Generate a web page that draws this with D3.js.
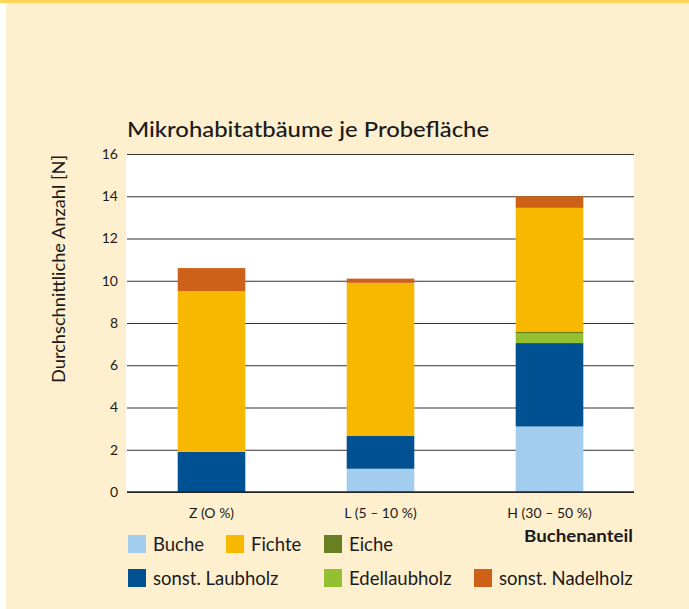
<!DOCTYPE html>
<html><head><meta charset="utf-8">
<script src="https://cdn.jsdelivr.net/npm/d3@7"></script>
<style>body{margin:0;padding:0;background:#fff;}svg{display:block;}text{font-family:Lato,"Open Sans",sans-serif;fill:#1a1a1a;}</style>
</head><body>
<svg id="c" width="689" height="609"></svg>
<script>
const categories = ["Z (O %)", "L (5 – 10 %)", "H (30 – 50 %)"];
const seriesNames = ["Buche", "sonst. Laubholz", "Edellaubholz", "Eiche", "Fichte", "sonst. Nadelholz"];
const buche = [0, 1.1, 3.1];
const laubholz = [1.9, 1.55, 3.95];
const edellaubholz = [0, 0, 0.45];
const eiche = [0, 0, 0.1];
const fichte = [7.6, 7.25, 5.85];
const nadelholz = [1.1, 0.2, 0.55];
const yTicks = [0, 2, 4, 6, 8, 10, 12, 14, 16];
const colors = ["#A3CDEF", "#005192", "#93C030", "#687F22", "#F9B800", "#CD6118"];
const legendRows = [["Buche", "Fichte", "Eiche"], ["sonst. Laubholz", "Edellaubholz", "sonst. Nadelholz"]];

const seriesVals = [buche, laubholz, edellaubholz, eiche, fichte, nadelholz];
const table = categories.map((c, i) => {
  const o = {cat: c};
  seriesNames.forEach((s, j) => o[s] = seriesVals[j][i]);
  return o;
});
const stack = d3.stack().keys(seriesNames)(table);
const color = d3.scaleOrdinal().domain(seriesNames).range(colors);

const svg = d3.select("#c");
svg.append("rect").attr("width", 689).attr("height", 609).attr("fill", "#FEF0CE");
svg.append("rect").attr("width", 6).attr("height", 609).attr("fill", "#ffffff");
svg.append("rect").attr("width", 689).attr("height", 3).attr("fill", "#FFD659");

const L = 127, R = 634, T = 154, B = 492;
const x = d3.scaleBand().domain(categories).range([L, R]).paddingInner(0.6).paddingOuter(0.3);
const y = d3.scaleLinear().domain([0, 16]).range([B, T]);

svg.append("rect").attr("x", L - 1).attr("y", T).attr("width", R - L + 1).attr("height", B - T).attr("fill", "#fff");

const yAxis = d3.axisLeft(y).tickValues(yTicks).tickSize(-(R - L)).tickPadding(8);
const gy = svg.append("g").attr("transform", `translate(${L},0)`).call(yAxis);
gy.select(".domain").remove();
gy.selectAll(".tick line").attr("stroke", "#333").attr("stroke-width", 1.2);
gy.selectAll(".tick text").attr("font-size", 14).attr("fill", "#1a1a1a").attr("dx", -1);

svg.append("g").selectAll("g").data(stack).join("g").attr("fill", d => color(d.key))
  .selectAll("rect").data(d => d).join("rect")
  .attr("x", d => x(d.data.cat)).attr("width", x.bandwidth())
  .attr("y", d => y(d[1])).attr("height", d => Math.max(0, y(d[0]) - y(d[1])));

svg.append("line").attr("x1", L).attr("x2", R).attr("y1", y(0)).attr("y2", y(0)).attr("stroke", "#222").attr("stroke-width", 1.5);

const xAxis = d3.axisBottom(x).tickSize(0).tickPadding(16);
const gx = svg.append("g").attr("transform", `translate(0,${B})`).call(xAxis);
gx.select(".domain").remove();
gx.selectAll(".tick text").attr("font-size", 14).attr("fill", "#1a1a1a");

svg.append("text").attr("x", 127).attr("y", 137).attr("font-size", 22).attr("font-weight", 500)
  .attr("textLength", 362).attr("lengthAdjust", "spacingAndGlyphs")
  .text("Mikrohabitatbäume je Probefläche");

svg.append("text").attr("transform", "translate(65,269) rotate(-90)").attr("text-anchor", "middle")
  .attr("font-size", 17).attr("textLength", 228).attr("lengthAdjust", "spacingAndGlyphs")
  .text("Durchschnittliche Anzahl [N]");

svg.append("text").attr("x", 524).attr("y", 542).attr("font-size", 17)
  .attr("font-weight", 700).attr("textLength", 109).attr("lengthAdjust", "spacingAndGlyphs").text("Buchenanteil");

const colX = [[128, 226, 324], [128, 324, 474]];
const rowY = [535, 569];
legendRows.forEach((row, r) => {
  row.forEach((name, i) => {
    const g = svg.append("g").attr("transform", `translate(${colX[r][i]},${rowY[r]})`);
    g.append("rect").attr("width", 18).attr("height", 18).attr("fill", color(name));
    g.append("text").attr("x", 25).attr("y", 16).attr("font-size", 18.5).text(name);
  });
});
</script>
</body></html>
